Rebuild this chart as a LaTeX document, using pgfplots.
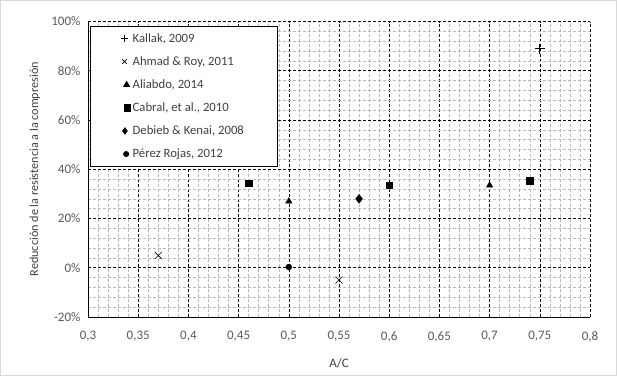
\documentclass[border=0pt]{standalone}
\usepackage{pgfplots}
\pgfplotsset{compat=1.18}
\usepackage{fontspec}
\setmainfont{Carlito}
\definecolor{txt}{RGB}{89,89,89}
\definecolor{lab}{RGB}{64,64,64}
\begin{document}
\begin{tikzpicture}
\begin{axis}[
  scale only axis, width=502pt, height=295.5pt,
  xmin=0.3, xmax=0.8, ymin=-20, ymax=100,
  xtick={0.3,0.35,0.4,0.45,0.5,0.55,0.6,0.65,0.7,0.75,0.8},
  xticklabels={{0,3},{0,35},{0,4},{0,45},{0,5},{0,55},{0,6},{0,65},{0,7},{0,75},{0,8}},
  ytick={-20,0,20,40,60,80,100},
  yticklabels={-20\%,0\%,20\%,40\%,60\%,80\%,100\%},
  minor x tick num=4, minor y tick num=4,
  grid=both,
  major grid style={black, dash pattern=on 3pt off 2pt, line width=0.6pt},
  minor grid style={gray!55, dash pattern=on 3pt off 2pt, line width=0.5pt},
  axis x line*=bottom, axis y line*=left,
  axis line style={-, black, line width=0.9pt},
  major tick length=0pt, minor tick length=0pt,
  tick label style={font=\fontsize{13}{15}\selectfont, text=txt},
  x tick label style={yshift=-11pt},
  y tick label style={xshift=-4pt},
  xlabel={A/C}, ylabel={Reducción de la resistencia a la compresión},
  every axis x label/.style={at={(axis description cs:0.5,-0.1557)}, anchor=center, font=\fontsize{13}{15}\selectfont, text=lab},
  every axis y label/.style={at={(axis description cs:-0.1056,0.5)}, rotate=90, anchor=center, font=\fontsize{12.2}{14}\selectfont, text=lab},
  legend style={at={(axis description cs:0.004,0.985)}, anchor=north west,
    draw=black, fill=white, line width=0.8pt,
    font=\fontsize{12.7}{14}\selectfont, text=lab,
    inner xsep=31pt, inner ysep=5pt, row sep=8.8pt},
  legend cell align=left,
]
\addplot[only marks, mark=+, mark size=5pt, black, line width=1pt, legend image post style={scale=0.7}] coordinates {(0.75,89)};
\addlegendentry{Kallak, 2009}
\addplot[only marks, mark=x, mark size=5pt, black, line width=0.6pt, legend image post style={scale=0.65}] coordinates {(0.37,5) (0.55,-5)};
\addlegendentry{Ahmad \& Roy, 2011}
\addplot[only marks, mark=triangle*, mark size=3.6pt, black, legend image post style={scale=0.9}] coordinates {(0.5,27) (0.7,33.5)};
\addlegendentry{Aliabdo, 2014}
\addplot[only marks, mark=square*, mark size=3.2pt, black] coordinates {(0.46,34.3) (0.6,33.5) (0.74,35.4)};
\addlegendentry{Cabral, et al., 2010}
\addplot[only marks, mark=diamond*, mark size=4.5pt, black, legend image post style={scale=0.7}] coordinates {(0.57,28)};
\addlegendentry{Debieb \& Kenai, 2008}
\addplot[only marks, mark=*, mark size=3pt, black, legend image post style={scale=0.85}] coordinates {(0.5,0.3)};
\addlegendentry{Pérez Rojas, 2012}
\end{axis}
\draw[gray!30, line width=1pt] (-87.5pt,-58.5pt) rectangle (528.5pt,316.5pt);
\end{tikzpicture}
\end{document}
